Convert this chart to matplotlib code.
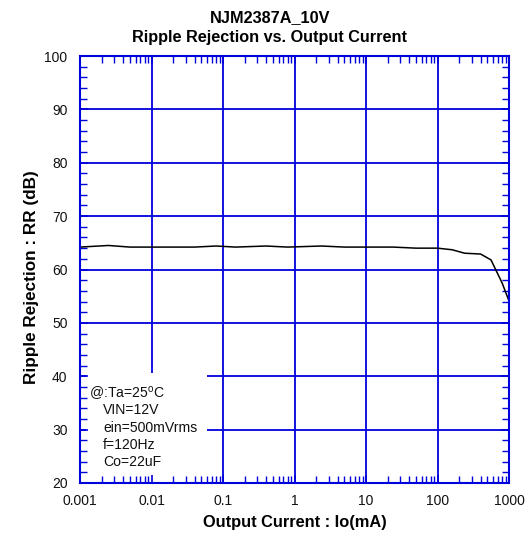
import matplotlib
matplotlib.use("Agg")
import matplotlib.pyplot as plt
from matplotlib.patches import Rectangle
from matplotlib.ticker import LogLocator, MultipleLocator, FixedLocator, FixedFormatter

plt.rcParams['font.family'] = ['Liberation Sans', 'DejaVu Sans']

# Data
current_mA = [0.001, 0.0025, 0.005, 0.01, 0.02, 0.04, 0.08, 0.15, 0.4, 0.8, 2.4, 5, 24, 50, 100,
              160, 240, 400, 560, 800, 1000]
rr_dB = [64.2, 64.5, 64.2, 64.2, 64.2, 64.2, 64.4, 64.2, 64.4, 64.2, 64.4, 64.2, 64.2, 64.0, 64.0,
         63.7, 63.05, 62.9, 61.8, 57.5, 54.1]

x_ticks = [0.001, 0.01, 0.1, 1, 10, 100, 1000]
x_tick_labels = ['0.001', '0.01', '0.1', '1', '10', '100', '1000']
y_ticks = [20, 30, 40, 50, 60, 70, 80, 90, 100]

title1 = "NJM2387A_10V"
title2 = "Ripple Rejection vs. Output Current"
xlabel = "Output Current : Io(mA)"
ylabel = "Ripple Rejection : RR (dB)"
note_first = "@:Ta=25$^{\\mathregular{o}}$C"
note_rest = ["VIN=12V", "ein=500mVrms", "f=120Hz", "Co=22uF"]

blue = '#0000dd'

fig = plt.figure(figsize=(5.31, 5.34), dpi=100)
ax = fig.add_axes([80/531, 1 - 483/534, 429/531, 427/534])
ax.set_xscale('log')
ax.set_xlim(0.001, 1000)
ax.set_ylim(20, 100)

for xv in x_ticks:
    ax.axvline(xv, color=blue, lw=1.3, zorder=1)
for yv in y_ticks:
    ax.axhline(yv, color=blue, lw=1.3, zorder=1)

ax.add_patch(Rectangle((0.015, 0.003), 0.281, 0.255, transform=ax.transAxes,
                       facecolor='white', edgecolor='none', zorder=1.5))

ax.plot(current_mA, rr_dB, color='black', lw=1.1, zorder=2)

ax.xaxis.set_major_locator(FixedLocator(x_ticks))
ax.xaxis.set_major_formatter(FixedFormatter(x_tick_labels))
ax.xaxis.set_minor_locator(LogLocator(base=10, subs=range(2, 10), numticks=20))
ax.xaxis.set_minor_formatter(plt.NullFormatter())
ax.yaxis.set_major_locator(FixedLocator(y_ticks))
ax.yaxis.set_minor_locator(MultipleLocator(2))

ax.tick_params(which='both', direction='in', top=True, right=True, color=blue, labelsize=10,
               labelcolor='#111111')
ax.tick_params(which='major', length=6, width=1.2)
ax.tick_params(which='minor', length=5, width=1.0)
ax.tick_params(axis='y', which='major', pad=9)
ax.tick_params(axis='x', which='major', pad=8)

for sp in ax.spines.values():
    sp.set_color(blue)
    sp.set_linewidth(1.5)
    sp.set_zorder(3)

fig.text(270/531, 1 - 18/534, title1, fontsize=11.7, fontweight='bold', ha='center', va='center')
fig.text(270/531, 1 - 37/534, title2, fontsize=11.7, fontweight='bold', ha='center', va='center')
ax.set_xlabel(xlabel, fontsize=11.8, fontweight='bold')
ax.xaxis.set_label_coords(0.5, -(515 - 483) / 427)
ax.set_ylabel(ylabel, fontsize=12.3, fontweight='bold')
ax.yaxis.set_label_coords(-(80 - 39) / 429, (483 - 277) / 427)

y0 = (483 - 393) / 427
dy = 17.3 / 427
ax.text(0.021, y0, note_first, transform=ax.transAxes, fontsize=10.1,
        va='center', ha='left', zorder=4, color='#111111')
for i, line in enumerate(note_rest):
    ax.text(0.054, y0 - (i + 1) * dy, line, transform=ax.transAxes, fontsize=10.1,
            va='center', ha='left', zorder=4, color='#111111')

fig.savefig('out.png', dpi=100)
